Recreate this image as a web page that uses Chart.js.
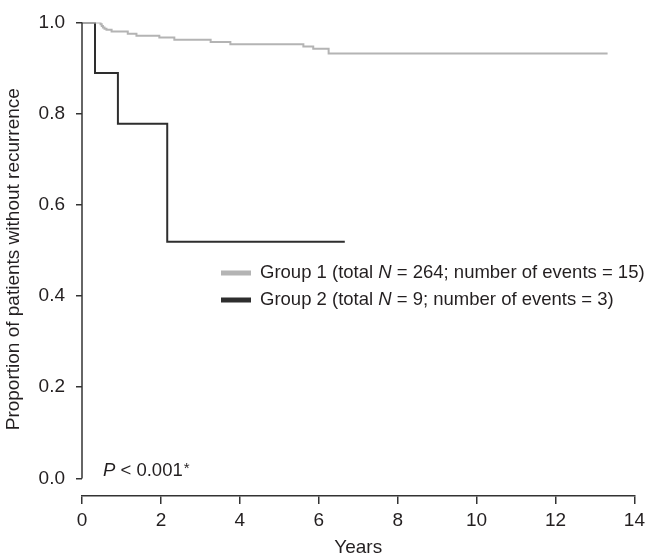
<!DOCTYPE html>
<html>
<head>
<meta charset="utf-8">
<script src="https://cdn.jsdelivr.net/npm/chart.js@4.4.1/dist/chart.umd.min.js"></script>
<style>
  html, body { margin: 0; padding: 0; background: #fff; }
  canvas { display: block; }
</style>
</head>
<body>
<canvas id="kmChart" width="650" height="559"></canvas>
<script>
// Kaplan-Meier steps (years, proportion without recurrence)
const group1Years = [0, 0.47, 0.50, 0.53, 0.57, 0.62, 0.75, 1.16, 1.38, 1.96, 2.34, 3.26, 3.76, 5.61, 5.86, 6.25, 13.32];
const group1Surv  = [1, 0.996, 0.992, 0.989, 0.986, 0.984, 0.980, 0.975, 0.971, 0.967, 0.962, 0.957, 0.952, 0.947, 0.942, 0.932, 0.932];
const group2Years = [0, 0.33, 0.91, 2.16, 6.66];
const group2Surv  = [1, 0.889, 0.778, 0.519, 0.519];

const xTicks = [0, 2, 4, 6, 8, 10, 12, 14];
const yTicks = [0, 0.2, 0.4, 0.6, 0.8, 1.0];

const groupLabels = [
  ['Group 1 (total ', 'N', ' = 264; number of events = 15)'],
  ['Group 2 (total ', 'N', ' = 9; number of events = 3)']
];
const pValueText = ['P', ' < 0.001', '*'];

const FONT = '"Liberation Sans", Arial, Helvetica, sans-serif';
const INK = '#231f20';
const colors = ['#b4b4b4', '#2e2e2e'];

const toPoints = (xs, ys) => xs.map((x, i) => ({ x: x, y: ys[i] }));

// y axis line only spans 0..1, legend + p value drawn as text
const extras = {
  id: 'extras',
  afterDraw(chart) {
    const ctx = chart.ctx;
    const xs = chart.scales.x, ys = chart.scales.y;
    ctx.save();
    ctx.strokeStyle = '#333';
    ctx.lineWidth = 1.5;
    ctx.beginPath();
    ctx.moveTo(xs.left, ys.getPixelForValue(1));
    ctx.lineTo(xs.left, ys.getPixelForValue(0));
    ctx.stroke();

    ctx.textBaseline = 'middle';
    ctx.fillStyle = INK;
    const rowY = [273, 300];
    groupLabels.forEach((parts, i) => {
      ctx.fillStyle = colors[i];
      ctx.fillRect(221, rowY[i] - 2.5, 30, 5);
      ctx.fillStyle = INK;
      let x = 260;
      parts.forEach((p, j) => {
        ctx.font = (j === 1 ? 'italic ' : '') + '18.5px ' + FONT;
        ctx.fillText(p, x, rowY[i]);
        x += ctx.measureText(p).width;
      });
    });

    let px = 103;
    ctx.font = 'italic 18.5px ' + FONT;
    ctx.fillText(pValueText[0], px, 471);
    px += ctx.measureText(pValueText[0]).width;
    ctx.font = '18.5px ' + FONT;
    ctx.fillText(pValueText[1], px, 471);
    px += ctx.measureText(pValueText[1]).width + 1;
    ctx.font = '15px ' + FONT;
    ctx.fillText(pValueText[2], px, 469);
    ctx.restore();
  }
};

new Chart(document.getElementById('kmChart'), {
  type: 'line',
  data: {
    datasets: [
      { label: 'Group 1', data: toPoints(group1Years, group1Surv), borderColor: colors[0], borderWidth: 2, stepped: true, pointRadius: 0, fill: false },
      { label: 'Group 2', data: toPoints(group2Years, group2Surv), borderColor: colors[1], borderWidth: 2, stepped: true, pointRadius: 0, fill: false }
    ]
  },
  options: {
    responsive: false,
    animation: false,
    devicePixelRatio: 1,
    layout: { padding: { left: 0, top: 10, right: 11, bottom: 0 } },
    plugins: { legend: { display: false }, tooltip: { enabled: false } },
    scales: {
      x: {
        type: 'linear',
        min: 0,
        max: 14,
        afterBuildTicks: (s) => { s.ticks = xTicks.map(v => ({ value: v })); },
        afterFit: (s) => { s.height = 63; },
        grid: { drawOnChartArea: false, drawTicks: true, tickLength: 8, color: '#333', lineWidth: 1.5 },
        border: { display: true, color: '#333', width: 1.5 },
        ticks: { color: INK, font: { family: FONT, size: 19 }, padding: 5, maxRotation: 0 },
        title: { display: true, text: 'Years', color: INK, font: { family: FONT, size: 19 }, padding: { top: 0, bottom: 0 } }
      },
      y: {
        min: -0.0385,
        max: 1.0,
        afterBuildTicks: (s) => { s.ticks = yTicks.map(v => ({ value: v })); },
        afterFit: (s) => { s.width = 82; },
        grid: { drawOnChartArea: false, drawTicks: true, tickLength: 6, color: '#333', lineWidth: 1.5 },
        border: { display: false },
        ticks: { color: INK, font: { family: FONT, size: 19 }, padding: 11, callback: (v) => v.toFixed(1) },
        title: { display: true, text: 'Proportion of patients without recurrence', color: INK, font: { family: FONT, size: 19 }, padding: { top: 2, bottom: 0 } }
      }
    }
  },
  plugins: [extras]
});
</script>
</body>
</html>
